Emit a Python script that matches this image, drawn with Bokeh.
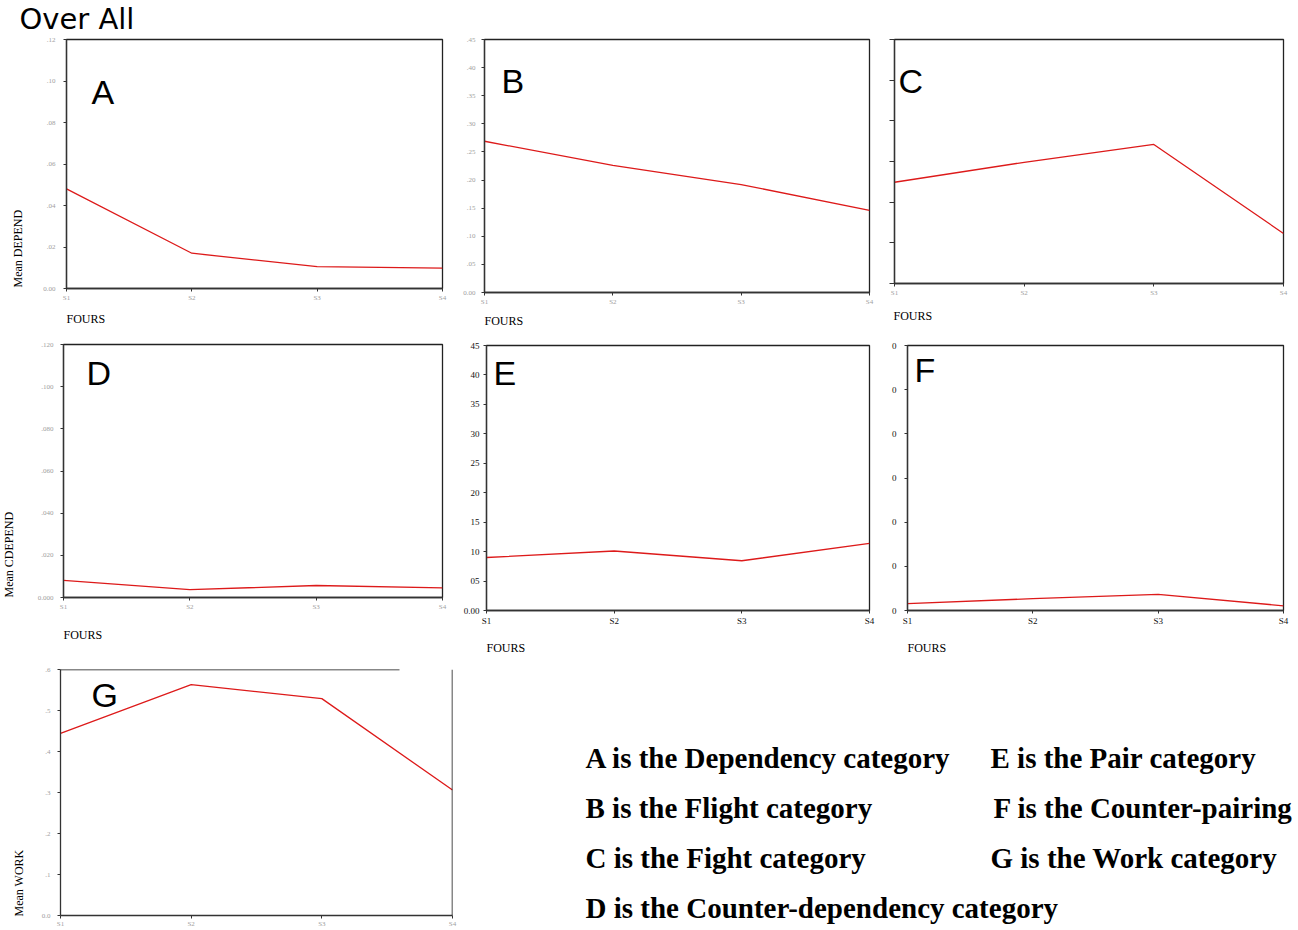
import math
from bokeh.plotting import figure
from bokeh.models import Range1d, FixedTicker, Label, BoxAnnotation, Span, Title
from bokeh.layouts import column, row
from bokeh.embed import file_html
from bokeh.resources import INLINE

# ---------------- data ----------------
rounds = ["S1", "S2", "S3", "S4"]

depend = [0.048, 0.017, 0.0105, 0.0098]          # A
flight = [0.269, 0.226, 0.192, 0.146]            # B
fight = [0.1245, 0.149, 0.171, 0.0615]           # C
counter_dep = [0.0081, 0.0037, 0.0057, 0.0046]   # D
pair = [0.090, 0.101, 0.0845, 0.114]             # E
counter_pair = [0.0078, 0.0134, 0.0183, 0.0053]  # F
work = [0.444, 0.563, 0.529, 0.306]              # G

ticks_A = [0.0, 0.02, 0.04, 0.06, 0.08, 0.10, 0.12]
labels_A = ["0.00", ".02", ".04", ".06", ".08", ".10", ".12"]
ticks_B = [0.0, 0.05, 0.10, 0.15, 0.20, 0.25, 0.30, 0.35, 0.40, 0.45]
labels_B = ["0.00", ".05", ".10", ".15", ".20", ".25", ".30", ".35", ".40", ".45"]
ticks_C = [0.0, 0.05, 0.10, 0.15, 0.20, 0.25, 0.30]
labels_C = ["", "", "", "", "", "", ""]
ticks_D = [0.0, 0.02, 0.04, 0.06, 0.08, 0.10, 0.12]
labels_D = ["0.000", ".020", ".040", ".060", ".080", ".100", ".120"]
ticks_E = [0.0, 0.05, 0.10, 0.15, 0.20, 0.25, 0.30, 0.35, 0.40, 0.45]
labels_E = ["0.00", "05", "10", "15", "20", "25", "30", "35", "40", "45"]
ticks_F = [0.0, 0.05, 0.10, 0.15, 0.20, 0.25, 0.30]
labels_F = ["0", "0", "0", "0", "0", "0", "0"]
ticks_G = [0.0, 0.1, 0.2, 0.3, 0.4, 0.5, 0.6]
labels_G = ["0.0", ".1", ".2", ".3", ".4", ".5", ".6"]

legend_col1 = ["A is the Dependency category", "B is the Flight category",
               "C is the Fight category", "D is the Counter-dependency category"]
legend_col2 = ["E is the Pair category", "F is the Counter-pairing",
               "G is the Work category"]

RED = "#dd1a1a"
GREY = "#a0a0a0"
SERIF = "Liberation Serif"
SANS = "Liberation Sans"


def blank(w, h):
    p = figure(width=w, height=h, x_axis_type=None, y_axis_type=None,
               output_backend="svg", toolbar_location=None, min_border=0)
    p.outline_line_color = None
    p.background_fill_color = "white"
    p.border_fill_color = "white"
    return p


def ylabel_fig(text, w, h, cx, y0):
    p = blank(w, h)
    p.add_layout(Label(x=cx, y=y0, x_units="screen", y_units="screen", text=text,
                       text_font=SERIF, text_font_size="12px", text_color="black",
                       text_baseline="middle", text_align="left", angle=math.pi / 2))
    return p


def panel(vals, yticks, ylabels, w, h, bl, br, bt, bb, tick_color, tick_size,
          letter, letter_xy, fours=None, outline=True, ytick_out=3, ystandoff=2):
    p = figure(width=w, height=h, x_range=Range1d(1, len(rounds)),
               y_range=Range1d(yticks[0], yticks[-1]),
               output_backend="svg", toolbar_location=None,
               min_border_left=bl, min_border_right=br,
               min_border_top=bt, min_border_bottom=bb)
    p.xgrid.visible = False
    p.ygrid.visible = False
    p.background_fill_color = "white"
    p.border_fill_color = "white"
    if outline:
        p.outline_line_color = "#222222"
        p.outline_line_width = 1.3
        p.outline_line_alpha = 1.0
    else:
        p.outline_line_color = None

    xs = list(range(1, len(rounds) + 1))
    p.line(xs, vals, line_color=RED, line_width=1.3)

    p.xaxis.ticker = FixedTicker(ticks=xs)
    p.xaxis.major_label_overrides = {x: r for x, r in zip(xs, rounds)}
    p.yaxis.ticker = FixedTicker(ticks=yticks)
    p.yaxis.major_label_overrides = {t: l for t, l in zip(yticks, ylabels)}

    for ax in (p.xaxis[0], p.yaxis[0]):
        ax.major_tick_in = 0
        ax.minor_tick_in = 0
        ax.minor_tick_out = 0
        ax.axis_line_color = "#333333"
        ax.axis_line_width = 1.3
        ax.major_tick_line_color = "#333333"
        ax.major_label_text_font = SERIF
        ax.major_label_text_font_size = tick_size
        ax.major_label_text_color = tick_color
    p.xaxis.major_tick_out = 3
    p.xaxis.major_label_standoff = 2
    p.yaxis.major_tick_out = ytick_out
    p.yaxis.major_label_standoff = ystandoff

    if fours is not None:
        p.add_layout(Title(text="FOURS", align="left", offset=fours[0], standoff=fours[1],
                           text_font=SERIF, text_font_size="12px",
                           text_font_style="normal", text_color="black"), "below")

    p.add_layout(Label(x=letter_xy[0] - 2, y=letter_xy[1] + 12, x_units="screen",
                       y_units="screen", text=letter, text_font=SANS,
                       text_font_size="34px", text_color="black",
                       text_baseline="alphabetic", text_align="left"))
    return p


# Row 1 (page y 0..330)
p_over = blank(460, 35)
p_over.add_layout(Title(text="Over All", align="left", offset=19, standoff=0,
                        text_font="DejaVu Sans", text_font_size="29px",
                        text_font_style="normal", text_color="black"), "above")
ylA = ylabel_fig("Mean DEPEND", 26, 295, 17, 43)
pA = panel(depend, ticks_A, labels_A, 434, 295, 40, 18, 4, 42, GREY, "7px",
           "A", (27, 185), fours=(0, 10), ystandoff=8)
pB = panel(flight, ticks_B, labels_B, 428, 330, 24, 19, 39, 38, GREY, "7px",
           "B", (19, 200), fours=(0, 6), ystandoff=6)
pC = panel(fight, ticks_C, labels_C, 410, 330, 6, 15, 39, 47, GREY, "7px",
           "C", (6, 191), fours=(-1, 14), ytick_out=5, ystandoff=0)

# Row 2 (page y 330..665)
ylD = ylabel_fig("Mean CDEPEND", 24, 335, 8, 68)
pD = panel(counter_dep, ticks_D, labels_D, 436, 335, 39, 18, 14, 68, GREY, "7px",
           "D", (25, 213), fours=(0, 24), ystandoff=7)
pE = panel(pair, ticks_E, labels_E, 428, 335, 24, 19, 15, 52, "#111111", "9px",
           "E", (9, 226), fours=(0, 21), ystandoff=4)
pF = panel(counter_pair, ticks_F, labels_F, 410, 335, 16, 15, 15, 52, "#111111", "9px",
           "F", (9, 229), fours=(0, 21), ystandoff=8)

# Row 3 (page y 665..930)
ylG = ylabel_fig("Mean WORK", 26, 265, 18, 14)
pG = panel(work, ticks_G, labels_G, 444, 265, 34, 18, 4, 14, GREY, "7px",
           "G", (33, 209), outline=False, ystandoff=7)
pG.xaxis.major_label_standoff = 1
pG.add_layout(BoxAnnotation(left=0, right=339, left_units="screen", right_units="screen",
                            bottom=ticks_G[-1], top=ticks_G[-1], fill_alpha=0,
                            line_color="#111111", line_alpha=1.0, line_width=1.5))
pG.add_layout(Span(location=len(rounds), dimension="height", line_color="#111111",
                   line_width=1.5))

pT = blank(828, 265)
col1_y = [173, 123, 73, 23]
for txt, yy in zip(legend_col1, col1_y):
    pT.add_layout(Label(x=115, y=yy, x_units="screen", y_units="screen", text=txt,
                        text_font=SERIF, text_font_size="29px", text_font_style="bold",
                        text_color="black", text_baseline="alphabetic", text_align="left"))
col2_x = [520, 523, 520]
for txt, xx, yy in zip(legend_col2, col2_x, col1_y[:3]):
    pT.add_layout(Label(x=xx, y=yy, x_units="screen", y_units="screen", text=txt,
                        text_font=SERIF, text_font_size="29px", text_font_style="bold",
                        text_color="black", text_baseline="alphabetic", text_align="left"))

layout = column(
    row(column(p_over, row(column(ylA), column(pA))), column(pB), column(pC)),
    row(column(ylD), column(pD), column(pE), column(pF)),
    row(column(ylG), column(pG), column(pT)),
)

open("out.html", "w").write(file_html(layout, INLINE))
